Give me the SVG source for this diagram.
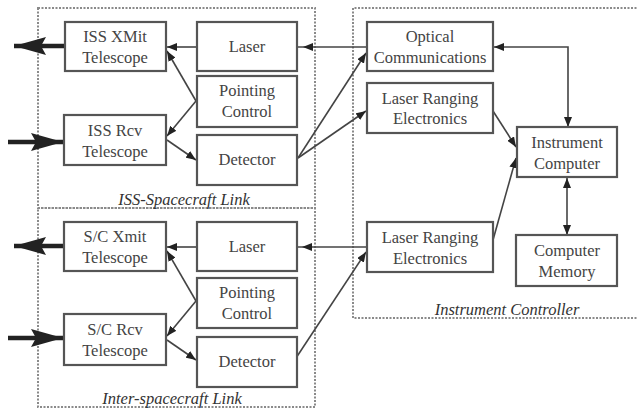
<svg xmlns="http://www.w3.org/2000/svg" width="637" height="409" viewBox="0 0 637 409">
<style>
.box{fill:#fff;stroke:#555;stroke-width:2.2}
.reg{fill:none;stroke:#8a8a8a;stroke-width:2;stroke-dasharray:2 1.5}
.t{font-family:'Liberation Serif','Times New Roman',serif;font-size:16.5px;fill:#444;text-anchor:middle}
.it{font-family:'Liberation Serif','Times New Roman',serif;font-size:16.5px;font-style:italic;fill:#333;text-anchor:middle}
.c{fill:none;stroke:#444;stroke-width:1.6}
.thick{fill:none;stroke:#222;stroke-width:4.5}
</style>
<defs>
<marker id="a" markerUnits="userSpaceOnUse" viewBox="0 0 10 8" refX="10" refY="4" markerWidth="10" markerHeight="8" orient="auto-start-reverse">
<path d="M0,0 L10,4 L0,8 Z" fill="#222"/>
</marker>
<marker id="big" markerUnits="userSpaceOnUse" viewBox="0 0 32 20" refX="32" refY="10" markerWidth="32" markerHeight="20" orient="auto">
<path d="M0,1 L32,10 L0,19 L5,10 Z" fill="#222"/>
</marker>
</defs>
<rect width="637" height="409" fill="#fff"/>

<g id="regions">
<rect class="reg" x="38" y="8" width="277" height="200"/>
<rect class="reg" x="38" y="208" width="277" height="199"/>
<path class="reg" d="M640,8 H353 V318 H640"/>
<text class="it" x="184" y="205">ISS-Spacecraft Link</text>
<text class="it" x="172" y="404">Inter-spacecraft Link</text>
<text class="it" x="507" y="315">Instrument Controller</text>
</g>

<g id="connectors">
<line class="thick" x1="65" y1="46" x2="14" y2="46" marker-end="url(#big)"/>
<line class="thick" x1="8" y1="142" x2="63" y2="142" marker-end="url(#big)"/>
<line class="thick" x1="63" y1="246" x2="14" y2="246" marker-end="url(#big)"/>
<line class="thick" x1="8" y1="338" x2="63" y2="338" marker-end="url(#big)"/>
<line class="c" x1="197" y1="47" x2="167" y2="47" marker-end="url(#a)"/>
<line class="c" x1="196" y1="101" x2="167" y2="51" marker-end="url(#a)"/>
<line class="c" x1="196" y1="101" x2="167" y2="136" marker-end="url(#a)"/>
<line class="c" x1="167" y1="140" x2="196" y2="160" marker-end="url(#a)"/>
<line class="c" x1="367" y1="47" x2="297" y2="47"/>
<path d="M303,47 L313,43 L313,51 Z" fill="#222"/>
<line class="c" x1="298" y1="158" x2="366" y2="53" marker-end="url(#a)"/>
<line class="c" x1="298" y1="158" x2="366" y2="111" marker-end="url(#a)"/>
<line class="c" x1="197" y1="247" x2="167" y2="247" marker-end="url(#a)"/>
<line class="c" x1="196" y1="301" x2="167" y2="251" marker-end="url(#a)"/>
<line class="c" x1="196" y1="301" x2="167" y2="336" marker-end="url(#a)"/>
<line class="c" x1="167" y1="340" x2="196" y2="360" marker-end="url(#a)"/>
<line class="c" x1="367" y1="247" x2="297" y2="247"/>
<path d="M302,247 L312,243 L312,251 Z" fill="#222"/>
<line class="c" x1="296" y1="358" x2="366" y2="252" marker-end="url(#a)"/>
<line class="c" x1="493" y1="111" x2="516" y2="147" marker-end="url(#a)"/>
<line class="c" x1="493" y1="240" x2="516" y2="158" marker-end="url(#a)"/>
<path class="c" d="M494,47 H568 V127" marker-start="url(#a)" marker-end="url(#a)"/>
<line class="c" x1="567" y1="178" x2="567" y2="235" marker-start="url(#a)" marker-end="url(#a)"/>
</g>

<g id="iss-xmit"><rect class="box" x="65" y="22" width="101" height="49"/><text class="t" x="115" y="42">ISS XMit</text><text class="t" x="115" y="63">Telescope</text></g>
<g id="iss-laser"><rect class="box" x="197" y="22" width="100" height="49"/><text class="t" x="247" y="52">Laser</text></g>
<g id="iss-pointing"><rect class="box" x="197" y="76" width="100" height="51"/><text class="t" x="247" y="96">Pointing</text><text class="t" x="247" y="117">Control</text></g>
<g id="iss-rcv"><rect class="box" x="64" y="115" width="102" height="50"/><text class="t" x="115" y="136">ISS Rcv</text><text class="t" x="115" y="157">Telescope</text></g>
<g id="iss-detector"><rect class="box" x="197" y="135" width="100" height="50"/><text class="t" x="247" y="165">Detector</text></g>

<g id="sc-xmit"><rect class="box" x="64" y="222" width="102" height="49"/><text class="t" x="115" y="242">S/C Xmit</text><text class="t" x="115" y="263">Telescope</text></g>
<g id="sc-laser"><rect class="box" x="197" y="222" width="100" height="49"/><text class="t" x="247" y="252">Laser</text></g>
<g id="sc-pointing"><rect class="box" x="197" y="278" width="100" height="50"/><text class="t" x="247" y="298">Pointing</text><text class="t" x="247" y="319">Control</text></g>
<g id="sc-rcv"><rect class="box" x="64" y="314" width="102" height="51"/><text class="t" x="115" y="335">S/C Rcv</text><text class="t" x="115" y="356">Telescope</text></g>
<g id="sc-detector"><rect class="box" x="197" y="337" width="100" height="50"/><text class="t" x="247" y="367">Detector</text></g>

<g id="optical-comm"><rect class="box" x="367" y="22" width="126" height="49"/><text class="t" x="430" y="42">Optical</text><text class="t" x="430" y="63">Communications</text></g>
<g id="lre-top"><rect class="box" x="367" y="83" width="126" height="50"/><text class="t" x="430" y="104">Laser Ranging</text><text class="t" x="430" y="124">Electronics</text></g>
<g id="instrument-computer"><rect class="box" x="517" y="127" width="100" height="50"/><text class="t" x="567" y="148">Instrument</text><text class="t" x="567" y="169">Computer</text></g>
<g id="lre-bottom"><rect class="box" x="367" y="222" width="126" height="50"/><text class="t" x="430" y="243">Laser Ranging</text><text class="t" x="430" y="264">Electronics</text></g>
<g id="computer-memory"><rect class="box" x="516" y="235" width="101" height="51"/><text class="t" x="567" y="256">Computer</text><text class="t" x="567" y="277">Memory</text></g>
</svg>
